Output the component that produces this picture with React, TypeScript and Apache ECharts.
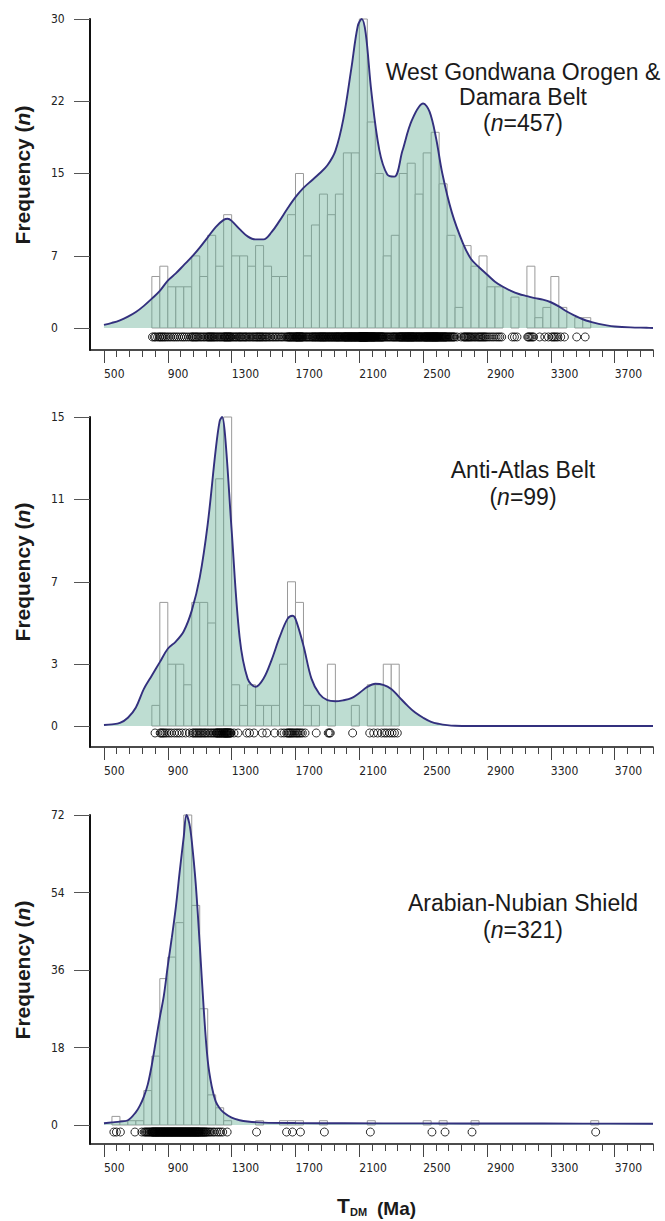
import React, { useEffect, useRef } from "react";
import * as echarts from "echarts";

// ---------------- axis ticks ----------------
const X_MIN = 412.5;
const X_MAX = 3940;
const majorTicks = [500, 900, 1300, 1700, 2100, 2500, 2900, 3300, 3700];
const minorTicks = [
  580, 660, 740, 820, 980, 1060, 1140, 1220, 1380, 1460, 1540, 1620, 1780, 1860, 1940, 2020,
  2180, 2260, 2340, 2420, 2580, 2660, 2740, 2820, 2980, 3060, 3140, 3220, 3380, 3460, 3540,
  3620, 3780, 3860, 3940,
];
const yTicks1 = [0, 7, 15, 22, 30];
const yTicks2 = [0, 3, 7, 11, 15];
const yTicks3 = [0, 18, 36, 54, 72];

// ---------------- histograms (50 Ma bins) ----------------
const BIN_WIDTH = 50;
const hist1First = 800;
const hist1Counts = [
  5, 6, 4, 4, 4, 7, 5, 9, 6, 11, 7, 7, 6, 8, 6, 5, 5, 11, 15, 7, 10, 13, 11, 13, 17, 17, 30, 20,
  15, 7, 9, 15, 16, 13, 17, 19, 14, 9, 2, 8, 6, 7, 4, 4, 0, 3, 0, 6, 1, 2, 5, 2, 0, 1, 1,
];
const hist2First = 800;
const hist2Counts = [
  1, 6, 3, 3, 2, 6, 6, 5, 12, 15, 2, 1, 2, 1, 1, 1, 3, 7, 6, 1, 1, 0, 3, 0, 0, 1, 0, 2, 2, 3, 3,
];
const hist3First = 550;
const hist3Counts = [
  2, 1, 1, 1, 8, 16, 34, 39, 47, 72, 51, 27, 7, 4, 1, 0, 0, 0, 1, 0, 0, 1, 1, 1, 0, 0, 1, 0, 0,
  0, 0, 0, 1, 0, 0, 0, 0, 0, 0, 1, 0, 1, 0, 0, 0, 1, 0, 0, 0, 0, 0, 0, 0, 0, 0, 0, 0, 0, 0, 0, 1,
];

// ---------------- KDE curves [age, frequency] ----------------
const kde1 = [
  [500, 0.3], [550, 0.5], [600, 0.75], [650, 1.1], [700, 1.55], [750, 2.15], [800, 2.85],
  [850, 3.6], [900, 4.6], [950, 5.3], [1000, 6.1], [1050, 6.9], [1100, 7.8], [1150, 8.8],
  [1200, 9.8], [1250, 10.5], [1275, 10.6], [1300, 10.4], [1350, 9.6], [1400, 8.9], [1450, 8.6],
  [1500, 8.6], [1550, 9.3], [1600, 10.4], [1650, 11.6], [1700, 12.7], [1750, 13.6], [1800, 14.3],
  [1850, 15.0], [1900, 15.8], [1950, 17.2], [2000, 20.3], [2050, 25.2], [2090, 29.3], [2115, 30],
  [2140, 28.6], [2175, 23], [2225, 17.3], [2275, 14.9], [2320, 14.7], [2370, 17.2], [2430, 20.2],
  [2500, 21.8], [2540, 21.0], [2580, 18.5], [2620, 15.0], [2680, 11.2], [2750, 8.2], [2800, 6.7],
  [2850, 5.9], [2900, 5.2], [2950, 4.5], [3000, 4.0], [3050, 3.6], [3100, 3.3], [3150, 3.1],
  [3200, 2.9], [3250, 2.75], [3300, 2.5], [3350, 2.1], [3400, 1.6], [3450, 1.2], [3500, 0.85],
  [3550, 0.6], [3600, 0.4], [3650, 0.25], [3700, 0.15], [3800, 0.06], [3900, 0.02], [3940, 0],
];
const kde2 = [
  [500, 0.05], [550, 0.08], [600, 0.15], [650, 0.4], [700, 0.9], [750, 1.8], [800, 2.45],
  [850, 3.1], [900, 3.75], [950, 4.1], [1000, 4.6], [1050, 5.6], [1100, 7.2], [1150, 9.8],
  [1200, 13.4], [1225, 14.8], [1240, 15.0], [1260, 14.0], [1300, 9.5], [1350, 4.3], [1400, 2.3],
  [1450, 1.9], [1500, 2.3], [1550, 3.2], [1600, 4.3], [1650, 5.2], [1680, 5.35], [1700, 5.2],
  [1750, 3.9], [1800, 2.3], [1850, 1.55], [1900, 1.25], [1950, 1.2], [2000, 1.25], [2050, 1.35],
  [2100, 1.6], [2150, 1.9], [2200, 2.05], [2250, 2.0], [2300, 1.8], [2350, 1.4], [2400, 1.0],
  [2450, 0.65], [2500, 0.4], [2550, 0.2], [2600, 0.1], [2650, 0.04], [2700, 0.01], [2800, 0],
  [3940, 0],
];
const kde3 = [
  [500, 0.4], [550, 0.6], [600, 0.8], [650, 1.1], [700, 3.0], [725, 4.5], [750, 6.6], [775, 9.5],
  [800, 14.0], [825, 19.5], [850, 25], [875, 30], [900, 37], [925, 43.5], [950, 50.5], [975, 59],
  [1000, 67], [1017, 72], [1035, 70], [1050, 66], [1075, 56], [1100, 42], [1125, 27], [1150, 15],
  [1175, 9], [1200, 5.5], [1225, 3.9], [1250, 2.9], [1300, 1.7], [1350, 1.1], [1400, 0.8],
  [1500, 0.55], [1700, 0.45], [2000, 0.4], [2500, 0.38], [3000, 0.35], [3500, 0.33], [3940, 0.3],
];

// ---------------- individual ages (open circles) ----------------
const ages1 = [
  804, 815, 823, 836, 847, 852, 861, 869, 877, 886, 897, 908, 919, 932, 943, 955, 967, 981, 993,
  1004, 1017, 1031, 1045, 1053, 1059, 1066, 1074, 1080, 1088, 1096, 1106, 1114, 1125, 1133, 1144,
  1151, 1156, 1162, 1168, 1173, 1179, 1185, 1191, 1197, 1206, 1213, 1222, 1229, 1237, 1245,
  1252, 1256, 1260, 1265, 1269, 1274, 1278, 1283, 1287, 1292, 1296, 1303, 1310, 1318, 1326, 1332,
  1341, 1348, 1354, 1360, 1367, 1375, 1382, 1388, 1395, 1404, 1412, 1420, 1429, 1436, 1444,
  1452, 1458, 1464, 1471, 1477, 1483, 1490, 1496, 1504, 1512, 1519, 1528, 1536, 1545,
  1555, 1564, 1573, 1583, 1592, 1603, 1613, 1622, 1634, 1643,
  1651, 1655, 1660, 1664, 1668, 1673, 1677, 1682, 1687, 1691, 1696,
  1701, 1704, 1707, 1710, 1713, 1716, 1720, 1723, 1726, 1729, 1733, 1736, 1740, 1743, 1747,
  1754, 1761, 1768, 1774, 1781, 1788, 1795, 1802, 1807, 1811, 1817, 1822, 1826, 1831, 1837, 1841, 1846,
  1851, 1855, 1858, 1862, 1866, 1870, 1874, 1877, 1881, 1885, 1889, 1893, 1897,
  1903, 1907, 1911, 1916, 1920, 1925, 1929, 1933, 1938, 1942, 1946,
  1951, 1955, 1958, 1962, 1966, 1969, 1973, 1977, 1981, 1985, 1989, 1993, 1997,
  2002, 2005, 2008, 2011, 2013, 2016, 2019, 2022, 2025, 2028, 2031, 2034, 2037, 2040, 2043, 2046, 2049,
  2051, 2054, 2057, 2060, 2063, 2066, 2069, 2072, 2074, 2077, 2080, 2083, 2086, 2089, 2092, 2095, 2098,
  2101, 2102, 2104, 2106, 2107, 2109, 2111, 2112, 2114, 2116, 2117, 2119, 2121, 2122, 2124,
  2126, 2127, 2129, 2131, 2132, 2134, 2136, 2137, 2139, 2141, 2142, 2144, 2146, 2147, 2149,
  2151, 2153, 2156, 2158, 2161, 2163, 2166, 2168, 2171, 2173, 2176, 2178, 2181, 2183, 2186,
  2188, 2191, 2193, 2196, 2198, 2202, 2205, 2209, 2212, 2215, 2219, 2222, 2226, 2229, 2232,
  2236, 2239, 2242, 2246, 2249, 2253, 2260, 2267, 2274, 2281, 2288, 2295,
  2303, 2309, 2314, 2320, 2325, 2331, 2336, 2342, 2347,
  2352, 2355, 2359, 2362, 2365, 2369, 2372, 2375, 2379, 2382, 2385, 2389, 2392, 2395, 2399,
  2401, 2404, 2407, 2410, 2413, 2416, 2419, 2422, 2425, 2428, 2431, 2434, 2437, 2440, 2443, 2447,
  2451, 2455, 2459, 2462, 2466, 2470, 2474, 2477, 2481, 2485, 2489, 2492, 2496,
  2502, 2505, 2508, 2511, 2514, 2517, 2520, 2522, 2525, 2528, 2531, 2534, 2537, 2540, 2543, 2545, 2548,
  2551, 2554, 2556, 2559, 2561, 2564, 2566, 2569, 2572, 2574, 2577, 2579, 2582, 2584, 2587, 2590,
  2592, 2595, 2598, 2602, 2605, 2609, 2612, 2616, 2619, 2623, 2626, 2630, 2633, 2637, 2640, 2644, 2647,
  2653, 2659, 2664, 2670, 2675, 2681, 2686, 2692, 2697, 2712, 2738,
  2753, 2759, 2765, 2771, 2778, 2784, 2790, 2797, 2804, 2812, 2821, 2829, 2838, 2846,
  2853, 2860, 2867, 2874, 2881, 2888, 2895, 2906, 2918, 2931, 2943, 2957, 2969, 2980, 2992,
  3058, 3072, 3088, 3155, 3161, 3168, 3176, 3184, 3192, 3230, 3262, 3285,
  3305, 3314, 3323, 3333, 3344, 3362, 3385, 3462, 3515,
];
const ages2 = [
  820, 852, 858, 866, 874, 883, 894, 908, 922, 941, 957, 972, 990, 1012, 1036,
  1055, 1063, 1071, 1079, 1088, 1096, 1104, 1112, 1121, 1129, 1137, 1146,
  1156, 1166, 1176, 1185, 1195, 1202, 1206, 1210, 1214, 1218, 1222, 1226, 1230, 1234, 1238, 1242, 1247,
  1251, 1254, 1257, 1260, 1263, 1266, 1269, 1272, 1275, 1278, 1281, 1285, 1289, 1293, 1297,
  1315, 1340, 1395, 1412, 1440, 1492, 1520, 1570, 1610, 1628, 1645,
  1652, 1658, 1664, 1670, 1677, 1684, 1692, 1702, 1709, 1716, 1724, 1733, 1743,
  1760, 1830, 1905, 1912, 1918, 2058, 2165, 2190, 2215, 2240, 2258, 2272, 2290, 2305, 2320, 2338,
];
const ages3 = [
  562, 578, 603, 694, 737, 752, 759, 766, 772, 779, 785, 791, 797,
  801, 804, 807, 811, 813, 816, 820, 822, 825, 829, 831, 834, 838, 840, 843, 847,
  850, 853, 856, 859, 862, 866, 868, 871, 874, 878, 880, 883, 886, 890, 892, 895, 898,
  901, 904, 907, 910, 913, 916, 919, 922, 925, 928, 931, 934, 937, 940, 943, 946, 949,
  952, 955, 958, 961, 964, 967, 970, 973, 976, 979, 982, 985, 988, 991, 994, 997,
  1000, 1003, 1006, 1009, 1012, 1015, 1018, 1021, 1024, 1027, 1030, 1033, 1036, 1039, 1042, 1045, 1048,
  1051, 1054, 1057, 1060, 1063, 1066, 1069, 1072, 1075, 1078, 1081, 1084, 1087, 1090, 1093, 1096, 1099,
  1103, 1107, 1111, 1115, 1119, 1123, 1127, 1131, 1136, 1141, 1146,
  1153, 1162, 1171, 1183, 1192, 1207, 1219, 1231, 1244, 1272,
  1456, 1644, 1681, 1731, 1881, 2169, 2555, 2637, 2806, 3581,
];

// ---------------- layout / style ----------------
const LABEL_FONT = "'DejaVu Sans Condensed', 'DejaVu Sans', sans-serif";
const TEXT_FONT = "'Liberation Sans', Arial, sans-serif";
const FILL = "rgba(100, 173, 147, 0.6)";
const CURVE = "#33307e";

const panels = [
  { top: 19, height: 331, yMin: -2.136, yMax: 30, rugY: -0.87, yTicks: yTicks1, hFirst: hist1First, hCounts: hist1Counts, kde: kde1, ages: ages1 },
  { top: 417, height: 330, yMin: -1.02, yMax: 15, rugY: -0.34, yTicks: yTicks2, hFirst: hist2First, hCounts: hist2Counts, kde: kde2, ages: ages2 },
  { top: 815, height: 329, yMin: -4.41, yMax: 72, rugY: -1.63, yTicks: yTicks3, hFirst: hist3First, hCounts: hist3Counts, kde: kde3, ages: ages3 },
];

function buildOption() {
  const grid: any[] = [];
  const xAxis: any[] = [];
  const yAxis: any[] = [];
  const series: any[] = [];

  panels.forEach((p, i) => {
    grid.push({ left: 90, width: 563, top: p.top, height: p.height });
    xAxis.push({
      type: "value", gridIndex: i, min: X_MIN, max: X_MAX, position: "bottom",
      axisLine: { show: true, onZero: false, lineStyle: { color: "#111", width: 1.6 } },
      axisTick: { show: true, customValues: majorTicks, length: 13, lineStyle: { color: "#444", width: 1 } },
      axisLabel: {
        show: true, customValues: majorTicks, align: "left", margin: 18, fontSize: 12, color: "#222",
        fontFamily: LABEL_FONT, formatter: (v: number) => String(v),
      },
      splitLine: { show: false },
    });
    xAxis.push({
      type: "value", gridIndex: i, min: X_MIN, max: X_MAX, position: "bottom",
      axisLine: { show: false, onZero: false },
      axisTick: { show: true, customValues: minorTicks, length: 7, lineStyle: { color: "#444", width: 1 } },
      axisLabel: { show: false },
      splitLine: { show: false },
    });
    yAxis.push({
      type: "value", gridIndex: i, min: p.yMin, max: p.yMax,
      axisLine: { show: true, onZero: false, lineStyle: { color: "#111", width: 2 } },
      axisTick: { show: true, customValues: p.yTicks, length: 16, lineStyle: { color: "#555", width: 1 } },
      axisLabel: {
        show: true, customValues: p.yTicks, align: "left", margin: 39, fontSize: 12, color: "#222",
        fontFamily: LABEL_FONT, formatter: (v: number) => String(v),
      },
      splitLine: { show: false },
    });

    const bins = p.hCounts
      .map((c, k) => [p.hFirst + k * BIN_WIDTH, p.hFirst + (k + 1) * BIN_WIDTH, c])
      .filter((d) => d[2] > 0);

    series.push({
      type: "custom", xAxisIndex: i * 2, yAxisIndex: i, z: 1,
      data: bins, encode: { x: [0, 1], y: 2 },
      renderItem: (params: any, api: any) => {
        const a = api.coord([api.value(0), api.value(2)]);
        const b = api.coord([api.value(1), 0]);
        return {
          type: "rect",
          shape: { x: a[0], y: a[1], width: b[0] - a[0], height: b[1] - a[1] },
          style: { fill: "#fff", stroke: "#9a9a9a", lineWidth: 1 },
        };
      },
    });
    series.push({
      type: "line", xAxisIndex: i * 2, yAxisIndex: i, z: 2,
      data: p.kde, smooth: 0.35, showSymbol: false, symbol: "none",
      lineStyle: { color: CURVE, width: 1.9 },
      areaStyle: { color: FILL, origin: 0 },
    });
    series.push({
      type: "scatter", xAxisIndex: i * 2, yAxisIndex: i, z: 3,
      data: p.ages.map((a) => [a, p.rugY]),
      symbol: "circle", symbolSize: 8,
      itemStyle: { color: "rgba(0,0,0,0)", borderColor: "#000", borderWidth: 1 },
    });
  });

  const titleText = (text: string, x: number, y: number, rich?: any) => ({
    type: "text", x, y, silent: true,
    style: {
      text, textAlign: "center", textVerticalAlign: "middle",
      fontSize: 23, fontFamily: TEXT_FONT, fill: "#1a1a1a", rich,
    },
  });
  const nRich = {
    a: { fontSize: 23, fontFamily: TEXT_FONT, fill: "#1a1a1a" },
    i: { fontSize: 23, fontFamily: TEXT_FONT, fontStyle: "italic", fill: "#1a1a1a" },
  };
  const freqRich = {
    a: { fontSize: 21, fontWeight: "bold", fontFamily: TEXT_FONT, fill: "#1a1a1a" },
    i: { fontSize: 21, fontWeight: "bold", fontStyle: "italic", fontFamily: TEXT_FONT, fill: "#1a1a1a" },
  };
  const freqLabel = (y: number) => ({
    type: "text", x: 22, y, rotation: Math.PI / 2, silent: true,
    style: { text: "{a|Frequency (}{i|n}{a|)}", rich: freqRich, textAlign: "center", textVerticalAlign: "middle" },
  });

  const graphic = [
    titleText("West Gondwana Orogen &", 523, 72),
    titleText("Damara Belt", 523, 97),
    titleText("{a|(}{i|n}{a|=457)}", 523, 123, nRich),
    titleText("Anti-Atlas Belt", 523, 470),
    titleText("{a|(}{i|n}{a|=99)}", 523, 497, nRich),
    titleText("Arabian-Nubian Shield", 523, 903),
    titleText("{a|(}{i|n}{a|=321)}", 523, 930, nRich),
    freqLabel(175),
    freqLabel(572),
    freqLabel(970),
    {
      type: "text", x: 337, y: 1205, silent: true,
      style: { text: "T", fontSize: 21, lineHeight: 21, fontWeight: "bold", fontFamily: TEXT_FONT, fill: "#1a1a1a", textAlign: "left", textVerticalAlign: "middle" },
    },
    {
      type: "text", x: 350, y: 1212, silent: true,
      style: { text: "DM", fontSize: 11, lineHeight: 11, fontWeight: "bold", fontFamily: TEXT_FONT, fill: "#1a1a1a", textAlign: "left", textVerticalAlign: "middle" },
    },
    {
      type: "text", x: 377, y: 1208, silent: true,
      style: { text: "(Ma)", fontSize: 19, lineHeight: 19, fontWeight: "bold", fontFamily: TEXT_FONT, fill: "#1a1a1a", textAlign: "left", textVerticalAlign: "middle" },
    },
  ];

  return { backgroundColor: "#ffffff", animation: false, grid, xAxis, yAxis, series, graphic };
}

export default function App() {
  const ref = useRef<HTMLDivElement>(null);
  useEffect(() => {
    if (!ref.current) return;
    const chart = echarts.init(ref.current, undefined, { renderer: "svg" });
    chart.setOption(buildOption() as any);
    return () => chart.dispose();
  }, []);
  return (
    <div
      ref={ref}
      style={{ position: "absolute", left: 0, top: 0, width: 665, height: 1221, background: "#fff" }}
    />
  );
}
